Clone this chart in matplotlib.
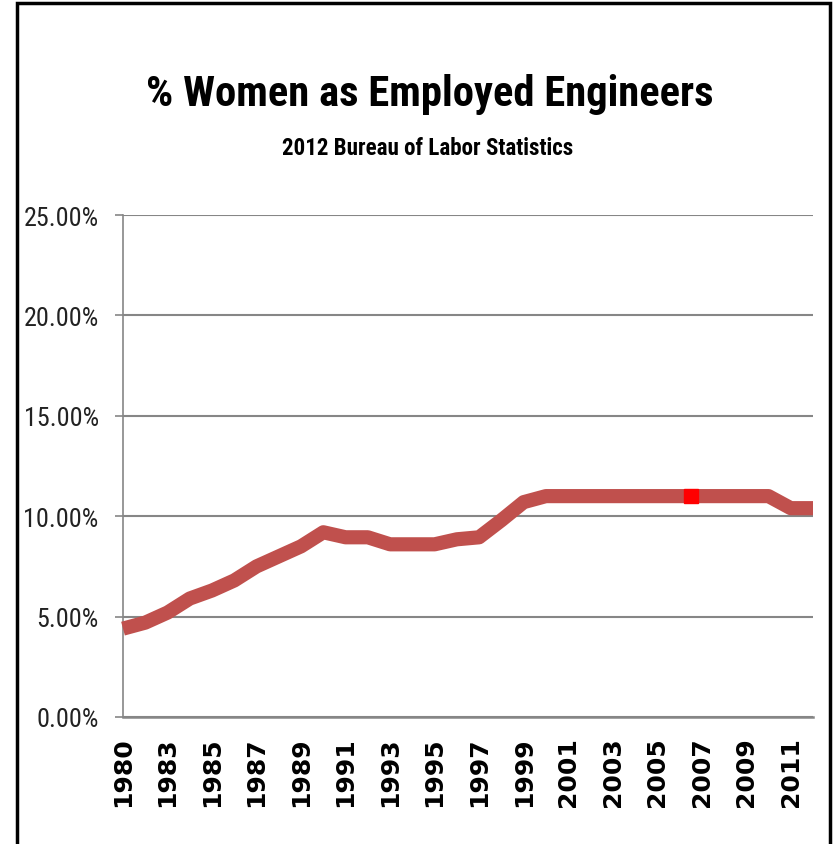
import matplotlib
matplotlib.use("Agg")
import matplotlib.pyplot as plt
from matplotlib.patches import Rectangle
from matplotlib.ticker import FuncFormatter

# ---------------- data ----------------
years = ["1980", "1982", "1983", "1984", "1985", "1986", "1987", "1988",
         "1989", "1990", "1991", "1992", "1993", "1994", "1995", "1996",
         "1997", "1998", "1999", "2000", "2001", "2002", "2003", "2004",
         "2005", "2006", "2007", "2008", "2009", "2010", "2011", "2012"]
pct_women = [4.4, 4.7, 5.2, 5.9, 6.3, 6.8, 7.5, 8.0,
             8.5, 9.2, 8.95, 8.95, 8.6, 8.6, 8.6, 8.85,
             8.95, 9.8, 10.7, 11.0, 11.0, 11.0, 11.0, 11.0,
             11.0, 11.0, 11.0, 11.0, 11.0, 11.0, 10.4, 10.4]
highlight_between = ("2006", "2007")
y_ticks = [0, 5, 10, 15, 20, 25]

title = "% Women as Employed Engineers"
subtitle = "2012 Bureau of Labor Statistics"

# ---------------- fonts ----------------
narrow = ["Roboto Condensed", "Liberation Sans Narrow", "Lato", "DejaVu Sans"]

# ---------------- figure ----------------
fig = plt.figure(figsize=(8.4, 8.45), dpi=100)
fig.patch.set_facecolor("white")
renderer = fig.canvas.get_renderer()

W, H = 840, 845
left, right, top, bottom = 123, 813, 216, 718
ax = fig.add_axes([left / W, 1 - bottom / H, (right - left) / W, (bottom - top) / H])

x = list(range(len(years)))
line_color = "#C0504D"
ax.plot(x, pct_women, color=line_color, lw=10.2, solid_joinstyle="round",
        solid_capstyle="butt", zorder=3, clip_on=False)

i0 = years.index(highlight_between[0])
i1 = years.index(highlight_between[1])
hx = (x[i0] + x[i1]) / 2
hy = (pct_women[i0] + pct_women[i1]) / 2
ax.plot([hx], [hy], marker="s", ms=10, color="#FF0000", mec="#FF0000", zorder=4)

ax.set_xlim(0, len(years) - 1)
ax.set_ylim(0, 25)


def fit_size(txt, family, weight, target_w, start=20):
    t = fig.text(0, 0, txt, fontsize=start, family=family, fontweight=weight)
    w = t.get_window_extent(renderer).width
    t.remove()
    return start * target_w / w


# y axis
ysize = fit_size("25.00%", narrow, "normal", 75)
ax.set_yticks(y_ticks)
ax.yaxis.set_major_formatter(FuncFormatter(lambda v, p: f"{v:.2f}%"))
ax.tick_params(axis="y", length=5.5, width=1.2, color="#868686", pad=12,
               labelsize=ysize, labelcolor="#222222")
for lab in ax.get_yticklabels():
    lab.set_fontfamily(narrow)

# x axis
ax.set_xticks(x[::2])
ax.set_xticklabels(years[::2], rotation=90, fontsize=18, fontweight="bold",
                   family="DejaVu Sans", color="black")
ax.tick_params(axis="x", length=0, pad=14)

ax.grid(axis="y", color="#868686", lw=1.5, zorder=1)
ax.set_axisbelow(True)
for s in ["top", "right"]:
    ax.spines[s].set_visible(False)
ax.spines["left"].set_color("#868686")
ax.spines["left"].set_linewidth(1.2)
ax.spines["bottom"].set_color("#868686")
ax.spines["bottom"].set_linewidth(1.8)

# titles
tsize = fit_size(title, narrow, "bold", 566)
ssize = fit_size(subtitle, narrow, "bold", 292)
fig.text(430 / W, 1 - 106 / H, title, ha="center", va="baseline", fontsize=tsize,
         fontweight="bold", family=narrow, color="black")
fig.text(428 / W, 1 - 155 / H, subtitle, ha="center", va="baseline", fontsize=ssize,
         fontweight="bold", family=narrow, color="black")

# outer frame
fig.add_artist(Rectangle((17 / W, -0.05), (830 - 17) / W, 1.05 - 4 / H,
                         transform=fig.transFigure, fill=False, ec="black",
                         lw=2.5, zorder=10))

fig.savefig("out.png", dpi=100, facecolor="white")
